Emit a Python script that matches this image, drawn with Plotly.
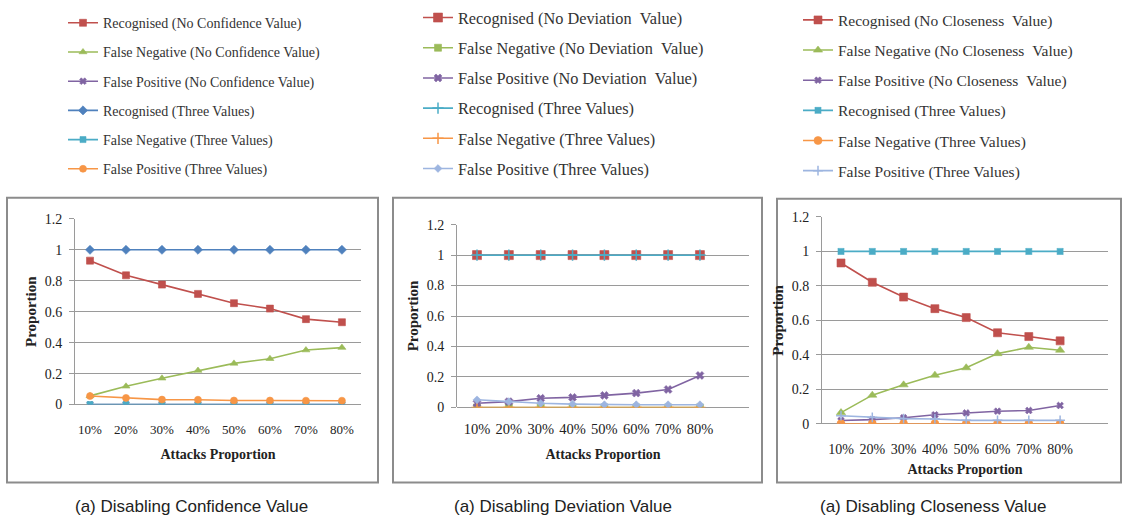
import plotly.graph_objects as go

# ---------------- data ----------------
attacks = ["10%", "20%", "30%", "40%", "50%", "60%", "70%", "80%"]

# (a) Disabling Confidence Value
conf_recognised_nc = [0.93, 0.835, 0.775, 0.715, 0.655, 0.62, 0.552, 0.532]
conf_false_neg_nc = [0.056, 0.118, 0.17, 0.22, 0.266, 0.296, 0.352, 0.368]
conf_false_pos_nc = [0, 0, 0, 0, 0, 0, 0, 0]
conf_recognised_3 = [1, 1, 1, 1, 1, 1, 1, 1]
conf_false_neg_3 = [0, 0, 0, 0, 0, 0, 0, 0]
conf_false_pos_3 = [0.055, 0.043, 0.032, 0.031, 0.026, 0.026, 0.025, 0.025]

# (a) Disabling Deviation Value
dev_recognised_nd = [1, 1, 1, 1, 1, 1, 1, 1]
dev_false_neg_nd = [0, 0, 0, 0, 0, 0, 0, 0]
dev_false_pos_nd = [0.027, 0.038, 0.06, 0.066, 0.079, 0.094, 0.118, 0.21]
dev_recognised_3 = [1, 1, 1, 1, 1, 1, 1, 1]
dev_false_neg_3 = [0, 0, 0, 0, 0, 0, 0, 0]
dev_false_pos_3 = [0.05, 0.038, 0.027, 0.022, 0.018, 0.018, 0.018, 0.018]

# (a) Disabling Closeness Value
clo_recognised_nc = [0.933, 0.821, 0.735, 0.668, 0.616, 0.528, 0.506, 0.481]
clo_false_neg_nc = [0.065, 0.166, 0.226, 0.282, 0.325, 0.407, 0.444, 0.427]
clo_false_pos_nc = [0.019, 0.024, 0.035, 0.052, 0.063, 0.073, 0.077, 0.106]
clo_recognised_3 = [1, 1, 1, 1, 1, 1, 1, 1]
clo_false_neg_3 = [0, 0, 0, 0, 0, 0, 0, 0]
clo_false_pos_3 = [0.047, 0.037, 0.03, 0.028, 0.02, 0.02, 0.02, 0.02]

names_conf = ["Recognised (No Confidence Value)", "False Negative (No Confidence Value)",
              "False Positive (No Confidence Value)", "Recognised (Three Values)",
              "False Negative (Three Values)", "False Positive (Three Values)"]
names_dev = ["Recognised (No Deviation \u00a0Value)", "False Negative (No Deviation \u00a0Value)",
             "False Positive (No Deviation \u00a0Value)", "Recognised (Three Values)",
             "False Negative (Three Values)", "False Positive (Three Values)"]
names_clo = ["Recognised (No Closeness \u00a0Value)", "False Negative (No Closeness \u00a0Value)",
             "False Positive (No Closeness \u00a0Value)", "Recognised (Three Values)",
             "False Negative (Three Values)", "False Positive (Three Values)"]

captions = ["(a) Disabling Confidence Value", "(a) Disabling Deviation Value",
            "(a) Disabling Closeness Value"]

# ---------------- styles ----------------
RED, GREEN, PURPLE = "#C0504D", "#9BBB59", "#8064A2"
BLUE, AQUA, ORANGE, LBLUE = "#4F81BD", "#4BACC6", "#F79646", "#9DB5E0"

styles_conf = [(RED, "square", 7), (GREEN, "triangle-up", 7), (PURPLE, "x", 6),
               (BLUE, "diamond", 7), (AQUA, "square", 6), (ORANGE, "circle", 7)]
styles_dev = [(RED, "square", 9), (GREEN, "square", 7), (PURPLE, "x", 7),
              (AQUA, "cross-thin", 8), (ORANGE, "cross-thin", 8), (LBLUE, "diamond", 6)]
styles_clo = [(RED, "square", 8), (GREEN, "triangle-up", 8), (PURPLE, "x", 6),
              (AQUA, "square-x", 6), (ORANGE, "circle", 8), (LBLUE, "cross-thin", 7)]

W, H = 1124, 528

panels = [
    dict(series=[conf_recognised_nc, conf_false_neg_nc, conf_false_pos_nc,
                 conf_recognised_3, conf_false_neg_3, conf_false_pos_3],
         names=names_conf, styles=styles_conf,
         px=(75, 361), py=(215, 408), xr=(-0.417, 7.53),
         legend=(63, -5, 14, 8), box=(7, 193, 378, 489), cap=191,
         fs=13, tls=15, xtitle_std=13),
    dict(series=[dev_recognised_nd, dev_false_neg_nd, dev_false_pos_nd,
                 dev_recognised_3, dev_false_neg_3, dev_false_pos_3],
         names=names_dev, styles=styles_dev,
         px=(457, 749), py=(221, 411), xr=(-0.628, 8.54),
         legend=(418, -12, 16.3, 6), box=(393, 193, 762, 489), cap=563,
         fs=14.5, tls=11, xtitle_std=13),
    dict(series=[clo_recognised_nc, clo_false_neg_nc, clo_false_pos_nc,
                 clo_recognised_3, clo_false_neg_3, clo_false_pos_3],
         names=names_clo, styles=styles_clo,
         px=(822, 1108), py=(213, 428), xr=(-0.607, 8.53),
         legend=(798, -9, 15.5, 7), box=(777, 194, 1121, 489), cap=933,
         fs=14, tls=15, xtitle_std=8),
]

fig = go.Figure()
layout = dict(width=W, height=H, margin=dict(l=0, r=0, t=0, b=0),
              paper_bgcolor="white", plot_bgcolor="white", showlegend=True)
shapes, annotations = [], []
SERIF = "Liberation Serif, Times New Roman, serif"

for i, p in enumerate(panels):
    k = "" if i == 0 else str(i + 1)
    leg = "legend" if i == 0 else f"legend{i + 1}"
    for j, (ys, name, (col, sym, sz)) in enumerate(zip(p["series"], p["names"], p["styles"])):
        fig.add_trace(go.Scatter(
            x=attacks, y=ys, name=name, mode="lines+markers",
            line=dict(color=col, width=1.6),
            marker=dict(color=col, symbol=sym, size=sz,
                        line=dict(color=col, width=1.5 if "thin" in sym else 0.6)),
            xaxis="x" + k, yaxis="y" + k, legend=leg, legendgroup=f"g{i}_{j}"))
    x0, x1 = p["px"]
    y0, y1 = p["py"]
    layout["xaxis" + k] = dict(
        domain=[x0 / W, x1 / W], anchor="y" + k, type="category",
        range=list(p["xr"]), showgrid=False, showline=False, zeroline=False,
        ticks="", ticklabelstandoff=p["tls"],
        tickfont=dict(family=SERIF, size=p["fs"], color="#222"),
        title=dict(text="Attacks Proportion", standoff=p["xtitle_std"],
                   font=dict(family=SERIF, size=14, color="#222", weight="bold")))
    layout["yaxis" + k] = dict(
        domain=[1 - y1 / H, 1 - y0 / H], anchor="x" + k, range=[0, 1.2], dtick=0.2,
        showgrid=True, gridcolor="#9a9a9a", gridwidth=1, zeroline=True,
        zerolinecolor="#9a9a9a", zerolinewidth=1,
        showline=True, linecolor="#9a9a9a", linewidth=1,
        ticks="outside", ticklen=5, tickcolor="#9a9a9a", ticklabelstandoff=4,
        tickfont=dict(family=SERIF, size=14, color="#222"),
        title=dict(text="Proportion", standoff=4,
                   font=dict(family=SERIF, size=15, color="#222", weight="bold")))
    lx, ly, lfs, gap = p["legend"]
    layout[leg] = dict(x=lx / W, y=1 - ly / H, xanchor="left", yanchor="top",
                       bgcolor="rgba(0,0,0,0)", tracegroupgap=gap,
                       font=dict(family=SERIF, size=lfs, color="#333"),
                       itemwidth=30)
    bx0, by0, bx1, by1 = p["box"]
    shapes.append(dict(type="rect", xref="paper", yref="paper",
                       x0=bx0 / W, x1=bx1 / W, y0=1 - by1 / H, y1=1 - by0 / H,
                       line=dict(color="#8c8c8c", width=2), layer="below"))
    annotations.append(dict(text=captions[i], xref="paper", yref="paper",
                            x=p["cap"] / W, y=1 - 514 / H, xanchor="center", yanchor="middle",
                            showarrow=False,
                            font=dict(family="Liberation Sans, Arial, sans-serif", size=17,
                                      color="#222")))

layout["shapes"] = shapes
layout["annotations"] = annotations
fig.update_layout(**layout)
fig.write_html("out.html")
